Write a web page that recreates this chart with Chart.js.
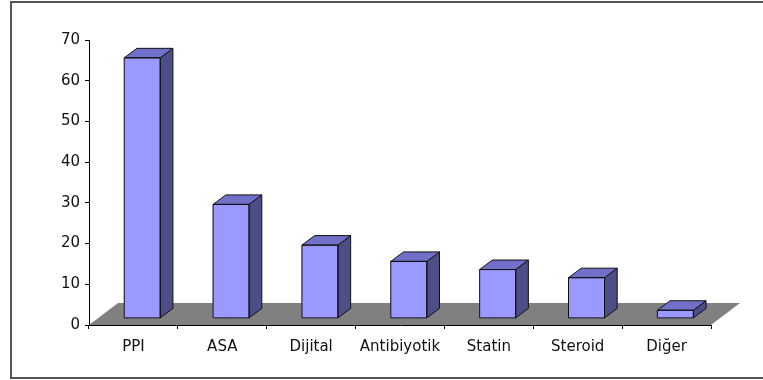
<!DOCTYPE html>
<html>
<head>
<meta charset="utf-8">
<script src="https://cdn.jsdelivr.net/npm/chart.js@4/dist/chart.umd.min.js"></script>
<style>
html,body{margin:0;padding:0;background:#fff;}
canvas{display:block;}
</style>
</head>
<body>
<canvas id="c" width="763" height="380"></canvas>
<script>
const categories = ["PPI", "ASA", "Dijital", "Antibiyotik", "Statin", "Steroid", "Diğer"];
const values = [64, 28, 18, 14, 12, 10, 2];
const yTicks = [0, 10, 20, 30, 40, 50, 60, 70];

const FRONT = '#9999ff', TOP = '#7070c8', SIDE = '#4e4e86', FLOOR = '#808080';
const FLOOR_DX = 29, FLOOR_DY = -22;   // floor depth
const SHIFT_DX = 8.8, SHIFT_DY = -6.6; // bar front plane position in depth
const BAR_DX = 12.7, BAR_DY = -9.5;    // bar depth

const threeD = {
  id: 'threeD',
  beforeDraw(chart) {
    const ctx = chart.ctx, a = chart.chartArea;
    const y0 = chart.scales.y.getPixelForValue(yTicks[0]);
    ctx.save();
    ctx.fillStyle = FLOOR;
    ctx.beginPath();
    ctx.moveTo(a.left, y0);
    ctx.lineTo(a.right, y0);
    ctx.lineTo(a.right + FLOOR_DX, y0 + FLOOR_DY);
    ctx.lineTo(a.left + FLOOR_DX, y0 + FLOOR_DY);
    ctx.closePath();
    ctx.fill();
    ctx.restore();
  },
  beforeDatasetsDraw(chart) {
    chart.ctx.save();
    chart.ctx.translate(SHIFT_DX, SHIFT_DY);
  },
  afterDatasetsDraw(chart) {
    const ctx = chart.ctx;
    const meta = chart.getDatasetMeta(0);
    ctx.lineWidth = 1;
    ctx.strokeStyle = '#111';
    ctx.lineJoin = 'round';
    meta.data.forEach(bar => {
      const p = bar.getProps(['x', 'y', 'base', 'width'], true);
      const l = p.x - p.width / 2, r = p.x + p.width / 2, t = p.y, b = p.base;
      // side face
      ctx.fillStyle = SIDE;
      ctx.beginPath();
      ctx.moveTo(r, t);
      ctx.lineTo(r + BAR_DX, t + BAR_DY);
      ctx.lineTo(r + BAR_DX, b + BAR_DY);
      ctx.lineTo(r, b);
      ctx.closePath();
      ctx.fill(); ctx.stroke();
      // top face
      ctx.fillStyle = TOP;
      ctx.beginPath();
      ctx.moveTo(l, t);
      ctx.lineTo(l + BAR_DX, t + BAR_DY);
      ctx.lineTo(r + BAR_DX, t + BAR_DY);
      ctx.lineTo(r, t);
      ctx.closePath();
      ctx.fill(); ctx.stroke();
      // front outline
      ctx.strokeRect(l, t, r - l, b - t);
    });
    ctx.restore();
  },
  afterDraw(chart) {
    const ctx = chart.ctx;
    ctx.save();
    ctx.strokeStyle = '#555';
    ctx.lineWidth = 2;
    ctx.strokeRect(11, 2, 780, 376);
    ctx.restore();
  }
};

const font = { family: 'DejaVu Sans', size: 15 };

new Chart(document.getElementById('c'), {
  type: 'bar',
  data: {
    labels: categories,
    datasets: [{
      data: values,
      backgroundColor: FRONT,
      borderColor: '#000',
      borderWidth: 0,
      barThickness: 36
    }]
  },
  options: {
    responsive: false,
    animation: false,
    layout: { padding: { left: 0, right: 52, top: 40, bottom: 0 } },
    plugins: { legend: { display: false }, tooltip: { enabled: false } },
    scales: {
      x: {
        grid: { drawOnChartArea: false, drawTicks: true, tickLength: 4, color: '#000', offset: true },
        border: { display: true, color: '#000', width: 1 },
        ticks: { font: font, color: '#111', padding: 9, maxRotation: 0, autoSkip: false },
        afterFit(s) { s.height = 55; }
      },
      y: {
        min: yTicks[0],
        max: yTicks[yTicks.length - 1],
        afterBuildTicks(s) { s.ticks = yTicks.map(v => ({ value: v })); },
        grid: { drawOnChartArea: false, drawTicks: true, tickLength: 4, color: '#000' },
        border: { display: true, color: '#000', width: 1 },
        ticks: { font: font, color: '#111', padding: 5 },
        afterFit(s) { s.width = 89; }
      }
    }
  },
  plugins: [threeD]
});
</script>
</body>
</html>
